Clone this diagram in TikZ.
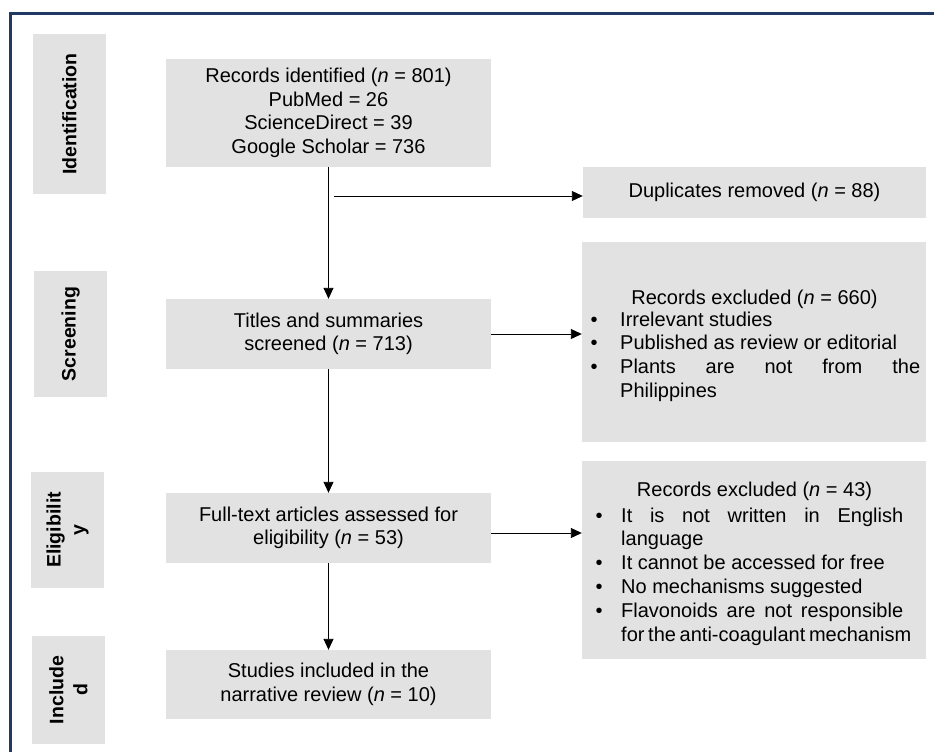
\documentclass[tikz,border=0pt]{standalone}
\usepackage{fontspec}
\setmainfont{Liberation Sans}
\usetikzlibrary{arrows.meta}
\definecolor{boxgray}{RGB}{226,226,226}
\definecolor{frameblue}{RGB}{31,56,100}
\hyphenpenalty=10000
\exhyphenpenalty=10000
\tolerance=9999
\hfuzz=30pt
\newcommand\bltA{\leavevmode\llap{\textbullet\hspace{22.5pt}}}
\newcommand\bltB{\leavevmode\llap{\textbullet\hspace{18.5pt}}}
\begin{document}
\begin{tikzpicture}[x=1pt,y=-1pt,
  box/.style={fill=boxgray, draw=none, inner sep=0pt, align=center,
    font=\fontsize{20}{23.5}\selectfont},
  stagetxt/.style={font=\fontsize{19.5}{24}\selectfont\bfseries, rotate=90,
    align=center, inner sep=0pt},
  ttl/.style={font=\fontsize{20}{23.5}\selectfont, inner sep=0pt, anchor=base},
  listtxt/.style={font=\fontsize{20}{23.8}\selectfont, align=justify,
    inner sep=0pt, anchor=base west},
  arr/.style={-{Triangle[length=11pt,width=10pt]}, line width=0.9pt, black}]
\useasboundingbox (0,0) rectangle (934,752);
\fill[white] (0,0) rectangle (934,752);
% frame
\draw[frameblue, line width=3pt] (10,752) -- (10,14) -- (934,14);

% stage boxes
\node[box, minimum width=73pt, minimum height=160pt] (s1) at (69.5,114) {};
\node[stagetxt] (s1t) at (s1.center) {Identification};
\node[box, minimum width=73pt, minimum height=126pt] (s2) at (70.5,334) {};
\node[stagetxt] (s2t) at (s2.center) {Screening};
\node[box, minimum width=73pt, minimum height=116pt] (s3) at (67.5,530) {};
\node[stagetxt] (s3t) at (s3.center) {Eligibilit\\y};
\node[box, minimum width=73pt, minimum height=108pt] (s4) at (68.5,690) {};
\node[stagetxt] (s4t) at (s4.center) {Include\\d};

% main boxes
\node[box, minimum width=325pt, minimum height=108pt] (rec) at (328.5,113)
  {Records identified (\textit{n} = 801)\\PubMed = 26\\ScienceDirect = 39\\Google Scholar = 736};
\node[box, minimum width=325pt, minimum height=70pt] (tit) at (328.5,334)
  {Titles and summaries\\screened (\textit{n} = 713)};
\node[box, minimum width=325pt, minimum height=70pt] (full) at (328.5,528)
  {Full-text articles assessed for\\eligibility (\textit{n} = 53)};
\node[box, minimum width=325pt, minimum height=69pt] (stud) at (328.5,684.5)
  {Studies included in the\\narrative review (\textit{n} = 10)};

% side boxes
\node[box, minimum width=343pt, minimum height=51pt] (dup) at (754.5,192.5)
  {Duplicates removed (\textit{n} = 88)};
\node[box, minimum width=344pt, minimum height=200pt] (exc1) at (754,342) {};
\node[ttl] (exc1t) at (754.5,304.5) {Records excluded (\textit{n} = 660)};
\node[listtxt, text width=300pt] (exc1l) at (620,326)
  {\bltA Irrelevant studies\par
   \bltA Published as review or editorial\par
   \bltA Plants are not from the\linebreak Philippines\par};
\node[box, minimum width=344pt, minimum height=198pt] (exc2) at (754,560) {};
\node[ttl] (exc2t) at (754.5,496.5) {Records excluded (\textit{n} = 43)};
\node[listtxt, text width=282pt] (exc2l) at (621,522)
  {\bltB It is not written in English\linebreak language\par
   \bltB It cannot be accessed for free\par
   \bltB No mechanisms suggested\par
   \bltB Flavonoids are not responsible\linebreak for~the~anti-coagulant~mechanism\par};

% connectors
\coordinate (dupstart) at (334,196);
\draw[arr] (rec.south) -- (tit.north);
\draw[arr] (dupstart) -- (dupstart -| dup.west);
\draw[arr] (tit.east) -- (tit.east -| exc1.west);
\draw[arr] (tit.south) -- (full.north);
\draw[arr] ([yshift=-5pt]full.east) -- ([yshift=-5pt]full.east -| exc2.west);
\draw[arr] (full.south) -- (stud.north);
\end{tikzpicture}
\end{document}
